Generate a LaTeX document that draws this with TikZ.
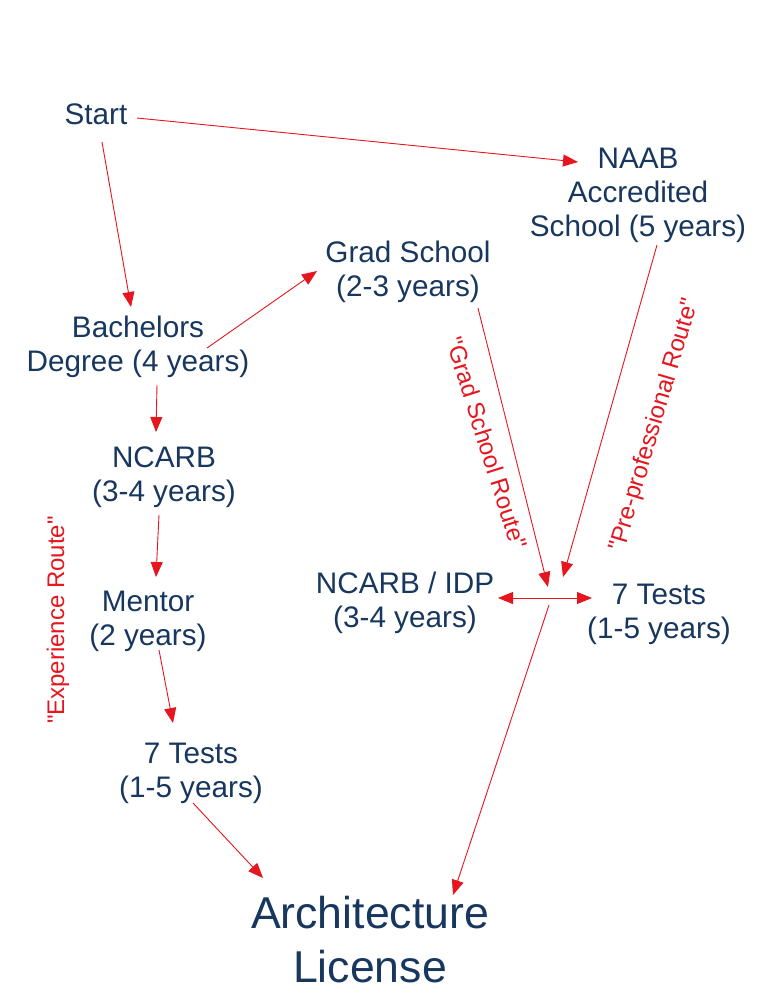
\documentclass[tikz,border=0pt]{standalone}
\usepackage{fontspec}
\setmainfont{Liberation Sans}
\newfontfamily\rfont{Liberation Sans}
\usetikzlibrary{arrows.meta}
\definecolor{navy}{RGB}{23,55,94}
\definecolor{arrred}{RGB}{230,22,30}
\begin{document}
\begin{tikzpicture}[x=1pt,y=-1pt,
  lbl/.style={anchor=base,inner sep=0pt,align=center,text=navy,font=\fontsize{29.7}{34}\selectfont},
  biglbl/.style={anchor=base,inner sep=0pt,align=center,text=navy,font=\fontsize{44.6}{54}\selectfont},
  route/.style={inner sep=0pt,text=arrred,font=\rfont\fontsize{24}{28}\selectfont},
  arr/.style={draw=arrred,line width=0.9pt,-{Triangle[length=15pt,width=12pt]}},
  dblarr/.style={draw=arrred,line width=0.9pt,{Triangle[length=15pt,width=12pt]}-{Triangle[length=15pt,width=12pt]}}]
\useasboundingbox[fill=white] (0,0) rectangle (768,994);

% nodes placed at the baseline of their last line
\node[lbl] (start) at (96,124) {Start};
\node[lbl] (naab) at (638,236) {NAAB\\Accredited\\School (5 years)};
\node[lbl] (grad) at (408,296) {Grad School\\(2-3 years)};
\node[lbl] (bach) at (138,371) {Bachelors\\Degree (4 years)};
\node[lbl] (ncarb) at (164,501) {NCARB\\(3-4 years)};
\node[lbl] (mentor) at (148,645) {Mentor\\(2 years)};
\node[lbl] (tests1) at (191,797) {7 Tests\\(1-5 years)};
\node[lbl] (idp) at (405,627) {NCARB / IDP\\(3-4 years)};
\node[lbl] (tests2) at (659,638) {7 Tests\\(1-5 years)};
\node[biglbl] (license) at (370,982) {Architecture\\License};

\node[route,rotate=90] (exp) at (58,620) {"Experience Route"};
\node[route,rotate=-72.5] (gradroute) at (487,443) {"Grad School Route"};
\node[route,rotate=73.5] (preroute) at (655,425) {"Pre-professional Route"};

\coordinate (junc) at (549,598);

\draw[arr] ([shift={(41,-6)}]start.base) -- ([shift={(-60,-74)}]naab.base);
\draw[arr] ([shift={(6,18)}]start.base) -- ([shift={(-7,-64)}]bach.base);
\draw[arr] ([shift={(69,-23)}]bach.base) -- ([shift={(-91,-25)}]grad.base);
\draw[arr] ([shift={(19,14)}]bach.base) -- ([shift={(-8,-69)}]ncarb.base);
\draw[arr] ([shift={(-5,14)}]ncarb.base) -- ([shift={(8,-68)}]mentor.base);
\draw[arr] ([shift={(11,5)}]mentor.base) -- ([shift={(-18,-74)}]tests1.base);
\draw[arr] ([shift={(2,6)}]tests1.base) -- ([shift={(-107,-104)}]license.base);
\draw[arr] ([shift={(70,12)}]grad.base) -- ([shift={(-1,-11)}]junc);
\draw[arr] ([shift={(19,9)}]naab.base) -- ([shift={(14,-21)}]junc);
\draw[dblarr] ([shift={(93,-29)}]idp.base) -- ([shift={(-67,-40)}]tests2.base);
\draw[arr] ([shift={(0,7)}]junc) -- ([shift={(83,-87)}]license.base);
\end{tikzpicture}
\end{document}
